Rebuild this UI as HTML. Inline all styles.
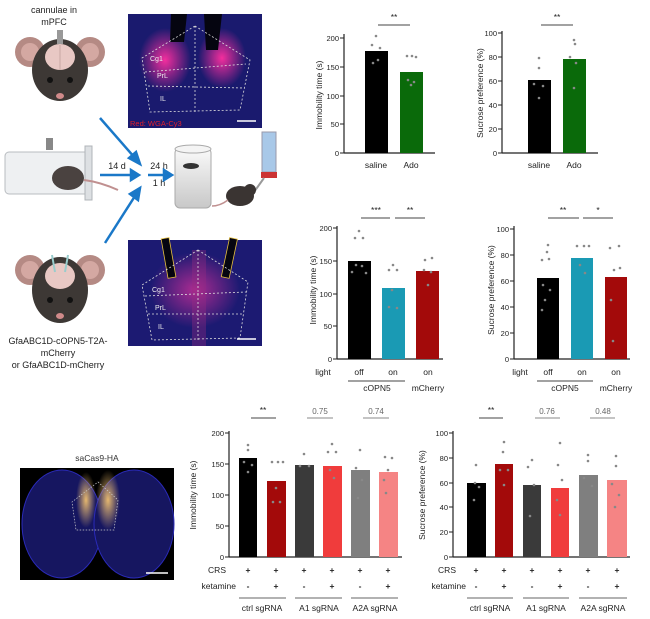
<!DOCTYPE html>
<html><head><meta charset="utf-8"><style>
html,body{margin:0;padding:0;background:#fff}
svg{display:block;font-family:"Liberation Sans",Arial,sans-serif}
.t{font-size:7.5px}
</style></head><body>
<svg width="650" height="619" viewBox="0 0 650 619" xmlns="http://www.w3.org/2000/svg">
<defs>
<radialGradient id="mag" cx="50%" cy="50%" r="50%"><stop offset="0" stop-color="#ff2fa0" stop-opacity="0.95"/><stop offset="1" stop-color="#ff2fa0" stop-opacity="0"/></radialGradient>
<radialGradient id="mag2" cx="50%" cy="50%" r="50%"><stop offset="0" stop-color="#d0309a" stop-opacity="0.8"/><stop offset="1" stop-color="#d0309a" stop-opacity="0"/></radialGradient>
<radialGradient id="gold" cx="50%" cy="50%" r="50%"><stop offset="0" stop-color="#f0c070" stop-opacity="0.95"/><stop offset="1" stop-color="#f0c070" stop-opacity="0"/></radialGradient>
<linearGradient id="beak" x1="0" y1="0" x2="0" y2="1"><stop offset="0" stop-color="#fafafa"/><stop offset="1" stop-color="#c8c8c8"/></linearGradient>
</defs>

<g font-size="9" fill="#222" text-anchor="middle">
<text x="54" y="13">cannulae in</text><text x="54" y="25">mPFC</text>
<text x="58" y="344">GfaABC1D-cOPN5-T2A-</text><text x="58" y="356">mCherry</text><text x="58" y="368">or GfaABC1D-mCherry</text>
<text x="117" y="169">14 d</text><text x="159" y="169">24 h</text><text x="159" y="186">1 h</text>
</g>
<g>
<circle cx="30" cy="52" r="15" fill="#b58a84"/><circle cx="30" cy="52" r="9" fill="#d4a8a2"/>
<circle cx="90" cy="52" r="15" fill="#b58a84"/><circle cx="90" cy="52" r="9" fill="#d4a8a2"/>
<ellipse cx="60" cy="70" rx="28" ry="31" fill="#3d3835"/>
<ellipse cx="60" cy="57" rx="15" ry="13" fill="#e8c8c4"/>
<line x1="60" y1="45" x2="60" y2="70" stroke="#c8a8a4"/>
<rect x="57" y="30" width="6" height="14" fill="#999"/>
<circle cx="50" cy="80" r="3" fill="#111"/><circle cx="70" cy="80" r="3" fill="#111"/>
<ellipse cx="60" cy="96" rx="4" ry="3" fill="#d08a8a"/>
</g>
<g>
<circle cx="30" cy="270" r="15" fill="#b58a84"/><circle cx="30" cy="270" r="9" fill="#d4a8a2"/>
<circle cx="90" cy="270" r="15" fill="#b58a84"/><circle cx="90" cy="270" r="9" fill="#d4a8a2"/>
<ellipse cx="60" cy="290" rx="28" ry="33" fill="#3d3835"/>
<ellipse cx="60" cy="276" rx="15" ry="13" fill="#e8c8c4"/>
<line x1="52" y1="255" x2="55" y2="272" stroke="#9cc" stroke-width="2"/><line x1="68" y1="255" x2="65" y2="272" stroke="#9cc" stroke-width="2"/>
<circle cx="50" cy="300" r="3" fill="#111"/><circle cx="70" cy="300" r="3" fill="#111"/>
<ellipse cx="60" cy="316" rx="4" ry="3" fill="#d08a8a"/>
</g>
<g>
<rect x="5" y="152" width="85" height="42" rx="4" fill="#eef0f2" stroke="#b8bcc0"/>
<rect x="85" y="146" width="7" height="54" fill="#dde0e3" stroke="#b0b4b8"/>
<rect x="46" y="138" width="7" height="12" fill="#888"/>
<ellipse cx="68" cy="178" rx="16" ry="12" fill="#4a4240"/>
<path d="M84 180 Q100 182 118 190" stroke="#c09090" stroke-width="2" fill="none"/>
</g>
<g stroke="#1a78c8" stroke-width="2.5" fill="#1a78c8">
<line x1="100" y1="118" x2="135" y2="158"/><polygon points="140,164 129,158 136,152"/>
<line x1="100" y1="175" x2="132" y2="175"/><polygon points="139,175 131,170 131,180"/>
<line x1="148" y1="175" x2="165" y2="175"/><polygon points="172,175 164,170 164,180"/>
<line x1="105" y1="243" x2="135" y2="196"/><polygon points="140,188 138,200 130,194"/>
</g>
<g>
<rect x="175" y="148" width="36" height="60" rx="5" fill="url(#beak)" stroke="#aaa"/>
<ellipse cx="193" cy="149" rx="18" ry="4" fill="#f4f4f4" stroke="#aaa"/>
<ellipse cx="191" cy="166" rx="8" ry="3" fill="#333"/>
</g>
<g>
<rect x="262" y="132" width="14" height="40" fill="#a8c8e8" stroke="#99a"/>
<rect x="261" y="172" width="16" height="6" fill="#c33"/>
<line x1="264" y1="178" x2="254" y2="192" stroke="#999" stroke-width="2"/>
<ellipse cx="240" cy="196" rx="14" ry="10" fill="#3a3432"/>
<circle cx="250" cy="190" r="6" fill="#3a3432"/>
<path d="M228 200 Q220 206 212 206" stroke="#c09090" stroke-width="1.5" fill="none"/>
</g>

<g>
<rect x="128" y="14" width="134" height="114" fill="#1a1a6e"/>
<ellipse cx="165" cy="60" rx="26" ry="32" fill="url(#mag)"/>
<ellipse cx="222" cy="58" rx="24" ry="30" fill="url(#mag)"/>
<path d="M171 14 L187 14 L184 42 L170 42 Z" fill="#050510"/>
<path d="M204 14 L222 14 L218 50 L206 50 Z" fill="#050510"/>
<g stroke="#ddd" stroke-dasharray="2,2" fill="none" stroke-width="0.8">
<polygon points="195,26 250,60 240,110 150,112 142,58"/>
<line x1="195" y1="26" x2="195" y2="112"/><line x1="145" y1="72" x2="246" y2="64"/><line x1="148" y1="86" x2="244" y2="88"/>
</g>
<g fill="#eee" font-size="7"><text x="150" y="61">Cg1</text><text x="157" y="78">PrL</text><text x="160" y="101">IL</text></g>
<text x="130" y="126" fill="#e0202c" font-size="7.5">Red: WGA-Cy3</text>
<line x1="237" y1="121" x2="256" y2="121" stroke="#fff" stroke-width="1.5"/>

<rect x="128" y="240" width="134" height="106" fill="#1c1a72"/>
<ellipse cx="195" cy="290" rx="45" ry="38" fill="url(#mag2)"/>
<rect x="192" y="250" width="14" height="96" fill="#9c2a80" opacity="0.35"/>
<g transform="rotate(-10 168 255)"><rect x="164" y="238" width="8" height="40" fill="#050510" stroke="#e6c040" stroke-width="0.8"/></g>
<g transform="rotate(12 230 255)"><rect x="226" y="238" width="8" height="40" fill="#050510" stroke="#e6c040" stroke-width="0.8"/></g>
<g stroke="#ddd" stroke-dasharray="2,2" fill="none" stroke-width="0.8">
<polygon points="198,250 248,282 240,338 152,340 142,285"/>
<line x1="198" y1="250" x2="198" y2="340"/><line x1="145" y1="296" x2="246" y2="292"/><line x1="148" y1="314" x2="244" y2="314"/>
</g>
<g fill="#eee" font-size="7"><text x="152" y="292">Cg1</text><text x="155" y="310">PrL</text><text x="158" y="329">IL</text></g>
<line x1="237" y1="339" x2="256" y2="339" stroke="#fff" stroke-width="1.5"/>

<text x="97" y="461" font-size="8.5" fill="#333" text-anchor="middle">saCas9-HA</text>
<rect x="20" y="468" width="154" height="112" fill="#000"/>
<ellipse cx="62" cy="524" rx="40" ry="54" fill="#161660" stroke="#2a2ab8"/>
<ellipse cx="134" cy="524" rx="40" ry="54" fill="#161660" stroke="#2a2ab8"/>
<ellipse cx="86" cy="500" rx="10" ry="28" fill="url(#gold)"/>
<ellipse cx="108" cy="500" rx="12" ry="30" fill="url(#gold)"/>
<polygon points="98,482 118,500 114,530 76,530 72,502" fill="none" stroke="#ccc" stroke-dasharray="1.5,1.5" stroke-width="0.7"/>
<line x1="146" y1="573" x2="168" y2="573" stroke="#fff" stroke-width="1.5"/>
</g>

<!-- Chart A1 -->
<g font-size="8.5" fill="#222">
<text transform="translate(322,95) rotate(-90)" text-anchor="middle" font-size="8.5">Immobility time (s)</text>
<line x1="344" y1="34" x2="344" y2="153" stroke="#222" stroke-width="1.2"/>
<line x1="344" y1="153" x2="435" y2="153" stroke="#222" stroke-width="1.2"/>
<g stroke="#222"><line x1="340" y1="38" x2="344" y2="38"/><line x1="340" y1="67" x2="344" y2="67"/><line x1="340" y1="96" x2="344" y2="96"/><line x1="340" y1="124" x2="344" y2="124"/><line x1="340" y1="153" x2="344" y2="153"/></g>
<g text-anchor="end" class="t"><text x="339" y="41">200</text><text x="339" y="70">150</text><text x="339" y="99">100</text><text x="339" y="127">50</text><text x="339" y="156">0</text></g>
<rect x="365" y="51" width="23" height="102" fill="#000"/>
<rect x="400" y="72" width="23" height="81" fill="#0a6a0a"/>
<g fill="#888"><circle cx="376" cy="36" r="1.3"/><circle cx="372" cy="45" r="1.3"/><circle cx="380" cy="48" r="1.3"/><circle cx="378" cy="60" r="1.3"/><circle cx="373" cy="63" r="1.3"/><circle cx="407" cy="56" r="1.3"/><circle cx="412" cy="56" r="1.3"/><circle cx="416" cy="57" r="1.3"/><circle cx="408" cy="80" r="1.3"/><circle cx="414" cy="82" r="1.3"/><circle cx="411" cy="85" r="1.3"/></g>
<line x1="378" y1="25" x2="410" y2="25" stroke="#444"/><text x="394" y="20" text-anchor="middle">**</text>
<g text-anchor="middle"><text x="376" y="168">saline</text><text x="411" y="168">Ado</text></g>
</g>

<!-- Chart A2 -->
<g font-size="8.5" fill="#222">
<text transform="translate(483,93) rotate(-90)" text-anchor="middle" font-size="8.5">Sucrose preference (%)</text>
<line x1="502" y1="31" x2="502" y2="153" stroke="#222" stroke-width="1.2"/>
<line x1="502" y1="153" x2="598" y2="153" stroke="#222" stroke-width="1.2"/>
<g stroke="#222"><line x1="498" y1="33" x2="502" y2="33"/><line x1="498" y1="57" x2="502" y2="57"/><line x1="498" y1="81" x2="502" y2="81"/><line x1="498" y1="105" x2="502" y2="105"/><line x1="498" y1="129" x2="502" y2="129"/><line x1="498" y1="153" x2="502" y2="153"/></g>
<g text-anchor="end" class="t"><text x="497" y="36">100</text><text x="497" y="60">80</text><text x="497" y="84">60</text><text x="497" y="108">40</text><text x="497" y="132">20</text><text x="497" y="156">0</text></g>
<rect x="528" y="80" width="23" height="73" fill="#000"/>
<rect x="563" y="59" width="23" height="94" fill="#0a6a0a"/>
<g fill="#888"><circle cx="539" cy="58" r="1.3"/><circle cx="539" cy="68" r="1.3"/><circle cx="534" cy="84" r="1.3"/><circle cx="543" cy="86" r="1.3"/><circle cx="539" cy="98" r="1.3"/><circle cx="574" cy="40" r="1.3"/><circle cx="575" cy="44" r="1.3"/><circle cx="570" cy="57" r="1.3"/><circle cx="576" cy="63" r="1.3"/><circle cx="574" cy="88" r="1.3"/></g>
<line x1="541" y1="25" x2="573" y2="25" stroke="#444"/><text x="557" y="20" text-anchor="middle">**</text>
<g text-anchor="middle"><text x="539" y="168">saline</text><text x="574" y="168">Ado</text></g>
</g>

<!-- Chart B1 -->
<g font-size="8.5" fill="#222">
<text transform="translate(316,290) rotate(-90)" text-anchor="middle" font-size="8.5">Immobility time (s)</text>
<line x1="337" y1="226" x2="337" y2="359" stroke="#222" stroke-width="1.2"/>
<line x1="337" y1="359" x2="443" y2="359" stroke="#222" stroke-width="1.2"/>
<g stroke="#222"><line x1="333" y1="228" x2="337" y2="228"/><line x1="333" y1="261" x2="337" y2="261"/><line x1="333" y1="294" x2="337" y2="294"/><line x1="333" y1="326" x2="337" y2="326"/><line x1="333" y1="359" x2="337" y2="359"/></g>
<g text-anchor="end" class="t"><text x="332" y="231">200</text><text x="332" y="264">150</text><text x="332" y="297">100</text><text x="332" y="329">50</text><text x="332" y="362">0</text></g>
<rect x="348" y="261" width="23" height="98" fill="#000"/>
<rect x="382" y="288" width="23" height="71" fill="#1a9ab4"/>
<rect x="416" y="271" width="23" height="88" fill="#a30a0a"/>
<g fill="#888"><circle cx="359" cy="231" r="1.3"/><circle cx="355" cy="238" r="1.3"/><circle cx="363" cy="238" r="1.3"/><circle cx="356" cy="265" r="1.3"/><circle cx="362" cy="266" r="1.3"/><circle cx="352" cy="272" r="1.3"/><circle cx="366" cy="273" r="1.3"/><circle cx="393" cy="265" r="1.3"/><circle cx="389" cy="270" r="1.3"/><circle cx="397" cy="270" r="1.3"/><circle cx="392" cy="290" r="1.3"/><circle cx="389" cy="307" r="1.3"/><circle cx="397" cy="308" r="1.3"/><circle cx="425" cy="260" r="1.3"/><circle cx="432" cy="258" r="1.3"/><circle cx="424" cy="270" r="1.3"/><circle cx="431" cy="272" r="1.3"/><circle cx="428" cy="285" r="1.3"/></g>
<line x1="361" y1="218" x2="390" y2="218" stroke="#444"/><text x="376" y="213" text-anchor="middle">***</text>
<line x1="395" y1="218" x2="425" y2="218" stroke="#444"/><text x="410" y="213" text-anchor="middle">**</text>
<text x="323" y="375" text-anchor="middle">light</text>
<g text-anchor="middle"><text x="359" y="375">off</text><text x="393" y="375">on</text><text x="428" y="375">on</text>
<text x="377" y="391">cOPN5</text><text x="428" y="391">mCherry</text></g>
<line x1="348" y1="381" x2="405" y2="381" stroke="#444"/>
</g>

<!-- Chart B2 -->
<g font-size="8.5" fill="#222">
<text transform="translate(494,290) rotate(-90)" text-anchor="middle" font-size="8.5">Sucrose preference (%)</text>
<line x1="514" y1="226" x2="514" y2="359" stroke="#222" stroke-width="1.2"/>
<line x1="514" y1="359" x2="630" y2="359" stroke="#222" stroke-width="1.2"/>
<g stroke="#222"><line x1="510" y1="229" x2="514" y2="229"/><line x1="510" y1="255" x2="514" y2="255"/><line x1="510" y1="281" x2="514" y2="281"/><line x1="510" y1="307" x2="514" y2="307"/><line x1="510" y1="333" x2="514" y2="333"/><line x1="510" y1="359" x2="514" y2="359"/></g>
<g text-anchor="end" class="t"><text x="509" y="232">100</text><text x="509" y="258">80</text><text x="509" y="284">60</text><text x="509" y="310">40</text><text x="509" y="336">20</text><text x="509" y="362">0</text></g>
<rect x="537" y="278" width="22" height="81" fill="#000"/>
<rect x="571" y="258" width="22" height="101" fill="#1a9ab4"/>
<rect x="605" y="277" width="22" height="82" fill="#a30a0a"/>
<g fill="#888"><circle cx="548" cy="245" r="1.3"/><circle cx="547" cy="252" r="1.3"/><circle cx="542" cy="260" r="1.3"/><circle cx="549" cy="259" r="1.3"/><circle cx="543" cy="285" r="1.3"/><circle cx="550" cy="290" r="1.3"/><circle cx="545" cy="300" r="1.3"/><circle cx="542" cy="310" r="1.3"/><circle cx="577" cy="246" r="1.3"/><circle cx="584" cy="246" r="1.3"/><circle cx="589" cy="246" r="1.3"/><circle cx="580" cy="265" r="1.3"/><circle cx="585" cy="273" r="1.3"/><circle cx="610" cy="248" r="1.3"/><circle cx="619" cy="246" r="1.3"/><circle cx="614" cy="270" r="1.3"/><circle cx="620" cy="268" r="1.3"/><circle cx="611" cy="300" r="1.3"/><circle cx="613" cy="341" r="1.3"/></g>
<line x1="548" y1="218" x2="579" y2="218" stroke="#444"/><text x="563" y="213" text-anchor="middle">**</text>
<line x1="583" y1="218" x2="613" y2="218" stroke="#444"/><text x="598" y="213" text-anchor="middle">*</text>
<text x="520" y="375" text-anchor="middle">light</text>
<g text-anchor="middle"><text x="548" y="375">off</text><text x="582" y="375">on</text><text x="616" y="375">on</text>
<text x="565" y="391">cOPN5</text><text x="616" y="391">mCherry</text></g>
<line x1="537" y1="381" x2="593" y2="381" stroke="#444"/>
</g>

<!-- Chart C1 -->
<g font-size="8.5" fill="#222">
<text transform="translate(196,495) rotate(-90)" text-anchor="middle" font-size="8.5">Immobility time (s)</text>
<line x1="229" y1="431" x2="229" y2="557" stroke="#222" stroke-width="1.2"/>
<line x1="229" y1="557" x2="402" y2="557" stroke="#222" stroke-width="1.2"/>
<g stroke="#222"><line x1="225" y1="433" x2="229" y2="433"/><line x1="225" y1="464" x2="229" y2="464"/><line x1="225" y1="495" x2="229" y2="495"/><line x1="225" y1="526" x2="229" y2="526"/><line x1="225" y1="557" x2="229" y2="557"/></g>
<g text-anchor="end" class="t"><text x="224" y="436">200</text><text x="224" y="467">150</text><text x="224" y="498">100</text><text x="224" y="529">50</text><text x="224" y="560">0</text></g>
<rect x="239" y="458" width="18" height="99" fill="#000"/>
<rect x="267" y="481" width="19" height="76" fill="#a30a0a"/>
<rect x="295" y="465" width="19" height="92" fill="#3a3a3a"/>
<rect x="323" y="466" width="19" height="91" fill="#f03c3c"/>
<rect x="351" y="470" width="19" height="87" fill="#7f7f7f"/>
<rect x="379" y="472" width="19" height="85" fill="#f58484"/>
<g fill="#888"><circle cx="248" cy="445" r="1.3"/><circle cx="248" cy="450" r="1.3"/><circle cx="244" cy="462" r="1.3"/><circle cx="252" cy="465" r="1.3"/><circle cx="248" cy="472" r="1.3"/><circle cx="272" cy="462" r="1.3"/><circle cx="278" cy="462" r="1.3"/><circle cx="283" cy="462" r="1.3"/><circle cx="276" cy="488" r="1.3"/><circle cx="273" cy="502" r="1.3"/><circle cx="280" cy="502" r="1.3"/><circle cx="304" cy="454" r="1.3"/><circle cx="300" cy="466" r="1.3"/><circle cx="309" cy="466" r="1.3"/><circle cx="332" cy="444" r="1.3"/><circle cx="328" cy="452" r="1.3"/><circle cx="336" cy="452" r="1.3"/><circle cx="330" cy="470" r="1.3"/><circle cx="334" cy="478" r="1.3"/><circle cx="360" cy="450" r="1.3"/><circle cx="356" cy="468" r="1.3"/><circle cx="362" cy="480" r="1.3"/><circle cx="358" cy="498" r="1.3"/><circle cx="385" cy="457" r="1.3"/><circle cx="392" cy="458" r="1.3"/><circle cx="388" cy="470" r="1.3"/><circle cx="384" cy="480" r="1.3"/><circle cx="386" cy="493" r="1.3"/></g>
<line x1="251" y1="418" x2="276" y2="418" stroke="#444"/><text x="263" y="413" text-anchor="middle">**</text>
<line x1="307" y1="418" x2="333" y2="418" stroke="#888"/><text x="320" y="414" text-anchor="middle" fill="#666" font-size="8">0.75</text>
<line x1="363" y1="418" x2="389" y2="418" stroke="#888"/><text x="376" y="414" text-anchor="middle" fill="#666" font-size="8">0.74</text>
<g text-anchor="end"><text x="226" y="573">CRS</text><text x="236" y="589">ketamine</text></g>
<g text-anchor="middle" font-weight="bold"><text x="248" y="573">+</text><text x="276" y="573">+</text><text x="304" y="573">+</text><text x="332" y="573">+</text><text x="360" y="573">+</text><text x="388" y="573">+</text>
<text x="248" y="589">-</text><text x="276" y="589">+</text><text x="304" y="589">-</text><text x="332" y="589">+</text><text x="360" y="589">-</text><text x="388" y="589">+</text></g>
<g stroke="#666"><line x1="239" y1="598" x2="286" y2="598"/><line x1="295" y1="598" x2="342" y2="598"/><line x1="351" y1="598" x2="398" y2="598"/></g>
<g text-anchor="middle"><text x="262" y="611">ctrl sgRNA</text><text x="319" y="611">A1 sgRNA</text><text x="375" y="611">A2A sgRNA</text></g>
</g>

<!-- Chart C2 -->
<g font-size="8.5" fill="#222">
<text transform="translate(425,495) rotate(-90)" text-anchor="middle" font-size="8.5">Sucrose preference (%)</text>
<line x1="453" y1="431" x2="453" y2="557" stroke="#222" stroke-width="1.2"/>
<line x1="453" y1="557" x2="630" y2="557" stroke="#222" stroke-width="1.2"/>
<g stroke="#222"><line x1="449" y1="433" x2="453" y2="433"/><line x1="449" y1="458" x2="453" y2="458"/><line x1="449" y1="483" x2="453" y2="483"/><line x1="449" y1="507" x2="453" y2="507"/><line x1="449" y1="532" x2="453" y2="532"/><line x1="449" y1="557" x2="453" y2="557"/></g>
<g text-anchor="end" class="t"><text x="448" y="436">100</text><text x="448" y="461">80</text><text x="448" y="486">60</text><text x="448" y="510">40</text><text x="448" y="535">20</text><text x="448" y="560">0</text></g>
<rect x="467" y="483" width="19" height="74" fill="#000"/>
<rect x="495" y="464" width="18" height="93" fill="#a30a0a"/>
<rect x="523" y="485" width="18" height="72" fill="#3a3a3a"/>
<rect x="551" y="488" width="18" height="69" fill="#f03c3c"/>
<rect x="579" y="475" width="19" height="82" fill="#7f7f7f"/>
<rect x="607" y="480" width="20" height="77" fill="#f58484"/>
<g fill="#888"><circle cx="476" cy="465" r="1.3"/><circle cx="475" cy="483" r="1.3"/><circle cx="479" cy="487" r="1.3"/><circle cx="474" cy="500" r="1.3"/><circle cx="504" cy="442" r="1.3"/><circle cx="503" cy="452" r="1.3"/><circle cx="500" cy="470" r="1.3"/><circle cx="508" cy="470" r="1.3"/><circle cx="504" cy="485" r="1.3"/><circle cx="532" cy="460" r="1.3"/><circle cx="528" cy="467" r="1.3"/><circle cx="534" cy="485" r="1.3"/><circle cx="530" cy="516" r="1.3"/><circle cx="560" cy="443" r="1.3"/><circle cx="558" cy="465" r="1.3"/><circle cx="562" cy="480" r="1.3"/><circle cx="557" cy="500" r="1.3"/><circle cx="560" cy="515" r="1.3"/><circle cx="588" cy="455" r="1.3"/><circle cx="588" cy="461" r="1.3"/><circle cx="584" cy="478" r="1.3"/><circle cx="592" cy="486" r="1.3"/><circle cx="616" cy="456" r="1.3"/><circle cx="616" cy="466" r="1.3"/><circle cx="612" cy="484" r="1.3"/><circle cx="619" cy="495" r="1.3"/><circle cx="615" cy="507" r="1.3"/></g>
<line x1="479" y1="418" x2="503" y2="418" stroke="#444"/><text x="491" y="413" text-anchor="middle">**</text>
<line x1="535" y1="418" x2="560" y2="418" stroke="#888"/><text x="547" y="414" text-anchor="middle" fill="#666" font-size="8">0.76</text>
<line x1="590" y1="418" x2="615" y2="418" stroke="#888"/><text x="603" y="414" text-anchor="middle" fill="#666" font-size="8">0.48</text>
<g text-anchor="end"><text x="456" y="573">CRS</text><text x="466" y="589">ketamine</text></g>
<g text-anchor="middle" font-weight="bold"><text x="476" y="573">+</text><text x="504" y="573">+</text><text x="532" y="573">+</text><text x="560" y="573">+</text><text x="588" y="573">+</text><text x="617" y="573">+</text>
<text x="476" y="589">-</text><text x="504" y="589">+</text><text x="532" y="589">-</text><text x="560" y="589">+</text><text x="588" y="589">-</text><text x="617" y="589">+</text></g>
<g stroke="#666"><line x1="467" y1="598" x2="513" y2="598"/><line x1="523" y1="598" x2="569" y2="598"/><line x1="579" y1="598" x2="627" y2="598"/></g>
<g text-anchor="middle"><text x="490" y="611">ctrl sgRNA</text><text x="546" y="611">A1 sgRNA</text><text x="603" y="611">A2A sgRNA</text></g>
</g>
</svg>
</body></html>
